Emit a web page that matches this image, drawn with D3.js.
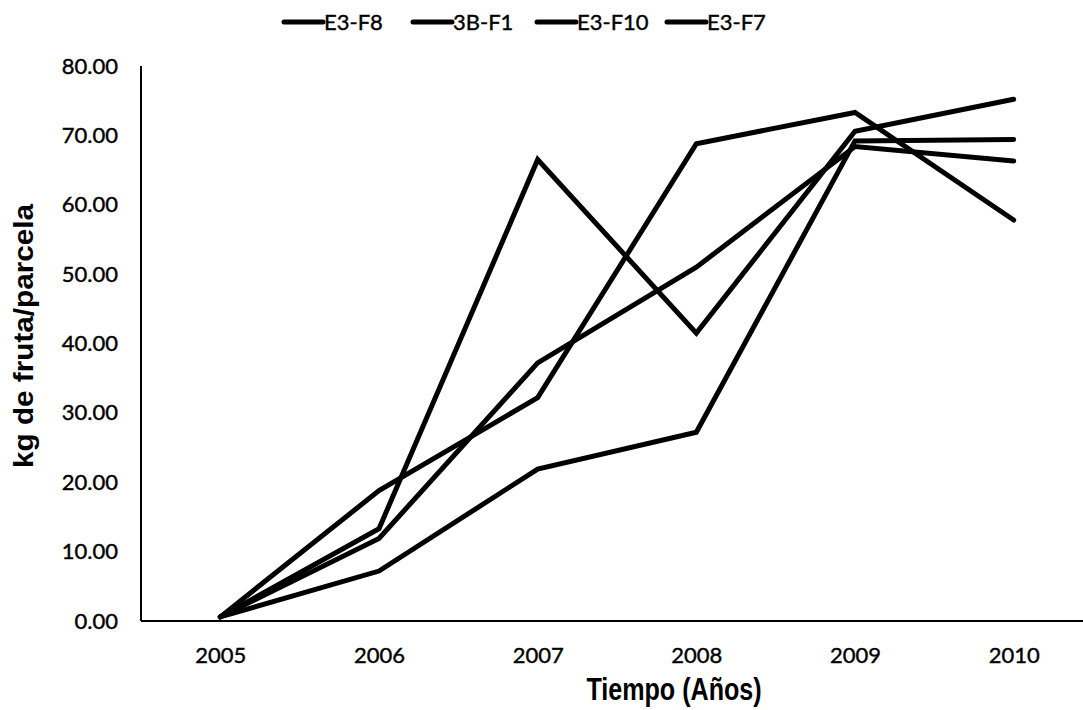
<!DOCTYPE html>
<html>
<head>
<meta charset="utf-8">
<script src="https://cdn.jsdelivr.net/npm/d3@7"></script>
<style>
  html, body { margin: 0; padding: 0; background: #fff; }
  svg { display: block; }
</style>
</head>
<body>
<svg id="chart" width="1083" height="710"></svg>
<script>
// Fruit yield per plot, 2005–2010
const years = ["2005", "2006", "2007", "2008", "2009", "2010"];
const seriesNames = ["E3-F8", "3B-F1", "E3-F10", "E3-F7"];
const e3f8  = [0.6, 13.3, 66.5, 41.5, 70.6, 75.2];
const b3f1  = [0.6, 18.8, 32.2, 68.8, 73.3, 57.8];
const e3f10 = [0.6, 11.9, 37.2, 51.0, 68.4, 66.3];
const e3f7  = [0.6, 7.2, 21.9, 27.2, 69.2, 69.4];
const yTicks = [0, 10, 20, 30, 40, 50, 60, 70, 80];

const seriesValues = [e3f8, b3f1, e3f10, e3f7];
const series = seriesNames.map((name, i) => ({
  name,
  points: years.map((yr, j) => ({ year: yr, value: seriesValues[i][j] }))
}));

const svg = d3.select("#chart");
const plotLeft = 141, plotRight = 1093, plotTop = 66, plotBottom = 621;

const x = d3.scalePoint().domain(years).range([plotLeft, plotRight]).padding(0.5);
const y = d3.scaleLinear().domain([0, 80]).range([plotBottom, plotTop]);

const tickFont = "Lato, 'Open Sans', sans-serif";
const titleFont = "'Liberation Sans', Arial, sans-serif";
const tickSize = 22;

// Slightly heavier label text
function styleLabel(sel) {
  sel.attr("font-family", tickFont)
    .attr("font-size", tickSize)
    .attr("fill", "#000")
    .attr("stroke", "#000")
    .attr("stroke-width", 0.4);
}

// Axes: plain lines, no tick marks
const yAxis = d3.axisLeft(y).tickValues(yTicks).tickFormat(d3.format(".2f")).tickSize(0).tickPadding(23);
const gy = svg.append("g").attr("transform", `translate(${plotLeft},0)`).call(yAxis);
gy.select(".domain").attr("stroke", "#000").attr("stroke-width", 2).attr("d", `M0,${plotTop}V${plotBottom}`);
gy.selectAll("text").call(styleLabel);

const xAxis = d3.axisBottom(x).tickSize(0).tickPadding(26);
const gx = svg.append("g").attr("transform", `translate(0,${plotBottom})`).call(xAxis);
gx.select(".domain").attr("stroke", "#000").attr("stroke-width", 2).attr("d", `M${plotLeft},0H${plotRight}`);
gx.selectAll("text").call(styleLabel);

// Series lines
const line = d3.line().x(d => x(d.year)).y(d => y(d.value));
svg.append("g").selectAll("path")
  .data(series)
  .join("path")
  .attr("d", d => line(d.points))
  .attr("fill", "none")
  .attr("stroke", "#000")
  .attr("stroke-width", 5)
  .attr("stroke-linejoin", "miter")
  .attr("stroke-linecap", "round");

// Axis titles
svg.append("text")
  .attr("transform", "translate(674,700) scale(0.93,1.15)")
  .attr("text-anchor", "middle")
  .attr("font-family", titleFont)
  .attr("font-weight", "bold")
  .attr("font-size", 27)
  .text("Tiempo (Años)");

svg.append("text")
  .attr("transform", "translate(33,336) rotate(-90) scale(1.06,1.0)")
  .attr("text-anchor", "middle")
  .attr("font-family", titleFont)
  .attr("font-weight", "bold")
  .attr("font-size", 28)
  .text("kg de fruta/parcela");

// Legend
const legendX = [284, 413, 537, 667];
const lg = svg.append("g").selectAll("g")
  .data(seriesNames)
  .join("g")
  .attr("transform", (d, i) => `translate(${legendX[i]},22)`);
lg.append("line")
  .attr("x1", 0).attr("x2", 39).attr("y1", 0).attr("y2", 0)
  .attr("stroke", "#000").attr("stroke-width", 5).attr("stroke-linecap", "round");
lg.append("text")
  .attr("x", 40).attr("y", 8)
  .call(styleLabel)
  .text(d => d);
</script>
</body>
</html>
